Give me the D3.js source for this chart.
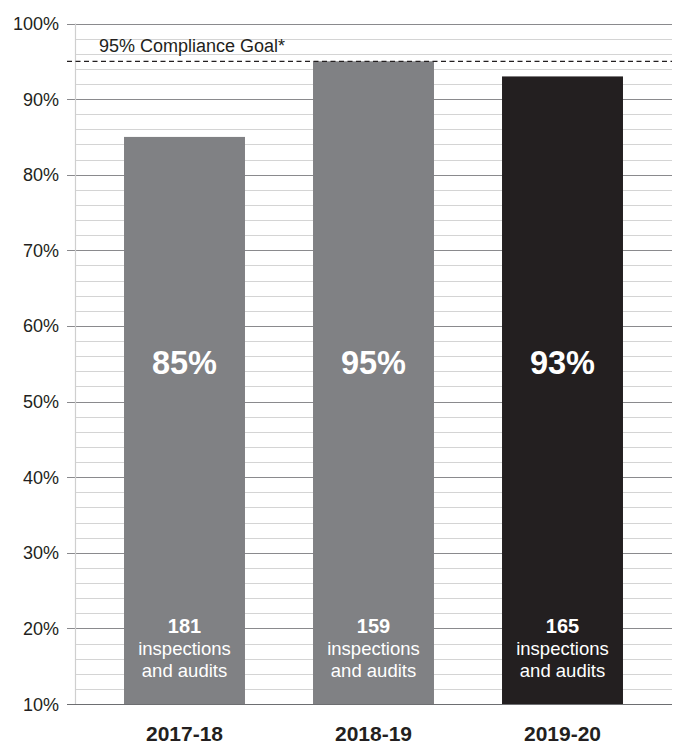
<!DOCTYPE html>
<html>
<head>
<meta charset="utf-8">
<script src="https://cdn.jsdelivr.net/npm/d3@7"></script>
<style>
  html, body { margin: 0; padding: 0; background: #fff; }
  svg { display: block; font-family: "Liberation Sans", Arial, sans-serif; }
</style>
</head>
<body>
<svg id="chart" width="674" height="745"></svg>
<script>
// Compliance rate by fiscal year
const years = ["2017-18", "2018-19", "2019-20"];
const compliance = [85, 95, 93];
const inspections = [181, 159, 165];
const barColors = ["#808184", "#808184", "#231f20"];
const goal = 95;
const yTicks = [10, 20, 30, 40, 50, 60, 70, 80, 90, 100];
const minorTicks = d3.range(12, 100, 2).filter(v => v % 10 !== 0);

const svg = d3.select("#chart");

const y = d3.scaleLinear().domain([10, 100]).range([704, 23.5]);
const x = d3.scaleBand().domain(years).range([90, 657])
  .paddingInner(0.36).paddingOuter(0.18);

const axisX = 75, rightX = 672;

// minor gridlines
svg.append("g").selectAll("line").data(minorTicks).join("line")
  .attr("x1", axisX).attr("x2", rightX)
  .attr("y1", d => Math.round(y(d)) + 0.5).attr("y2", d => Math.round(y(d)) + 0.5)
  .attr("stroke", "#d4d4d4").attr("stroke-width", 1.2);

// major gridlines with ticks extending past the axis
svg.append("g").selectAll("line").data(yTicks).join("line")
  .attr("x1", 67).attr("x2", rightX)
  .attr("y1", d => Math.round(y(d)) + 0.5).attr("y2", d => Math.round(y(d)) + 0.5)
  .attr("stroke", d => d === 10 ? "#6d6e71" : "#8a8a8d").attr("stroke-width", 1.2);

// vertical axis line
svg.append("line")
  .attr("x1", axisX + 0.5).attr("x2", axisX + 0.5)
  .attr("y1", y(100)).attr("y2", y(10))
  .attr("stroke", "#cfcfcf").attr("stroke-width", 1.2);

// y tick labels
svg.append("g").selectAll("text").data(yTicks).join("text")
  .attr("x", 59).attr("y", d => y(d) + 6.5)
  .attr("text-anchor", "end")
  .attr("font-size", 18).attr("fill", "#231f20")
  .text(d => d + "%");

// bars
const bars = svg.append("g").selectAll("g").data(years).join("g");
bars.append("rect")
  .attr("x", d => x(d))
  .attr("width", x.bandwidth())
  .attr("y", (d, i) => y(compliance[i]))
  .attr("height", (d, i) => y(10) - y(compliance[i]))
  .attr("fill", (d, i) => barColors[i]);

// goal line
svg.append("line")
  .attr("x1", 67).attr("x2", rightX)
  .attr("y1", y(goal)).attr("y2", y(goal))
  .attr("stroke", "#231f20").attr("stroke-width", 1.2)
  .attr("stroke-dasharray", "5,3.5");

svg.append("text")
  .attr("x", 99).attr("y", 52)
  .attr("font-size", 18).attr("fill", "#231f20")
  .text(goal + "% Compliance Goal*");

// value labels
bars.append("text")
  .attr("x", d => x(d) + x.bandwidth() / 2)
  .attr("y", 374)
  .attr("text-anchor", "middle")
  .attr("font-size", 32.5).attr("font-weight", "bold").attr("fill", "#fff")
  .text((d, i) => compliance[i] + "%");

// inspection counts
bars.append("text")
  .attr("x", d => x(d) + x.bandwidth() / 2)
  .attr("y", 633)
  .attr("text-anchor", "middle")
  .attr("font-size", 20).attr("font-weight", "bold").attr("fill", "#fff")
  .text((d, i) => inspections[i]);

bars.append("text")
  .attr("x", d => x(d) + x.bandwidth() / 2)
  .attr("y", 655)
  .attr("text-anchor", "middle")
  .attr("font-size", 18.5).attr("fill", "#fff")
  .text("inspections");

bars.append("text")
  .attr("x", d => x(d) + x.bandwidth() / 2)
  .attr("y", 677)
  .attr("text-anchor", "middle")
  .attr("font-size", 18.5).attr("fill", "#fff")
  .text("and audits");

// category labels
svg.append("g").selectAll("text").data(years).join("text")
  .attr("x", d => x(d) + x.bandwidth() / 2)
  .attr("y", 741)
  .attr("text-anchor", "middle")
  .attr("font-size", 21).attr("font-weight", "bold").attr("fill", "#231f20")
  .text(d => d);
</script>
</body>
</html>
